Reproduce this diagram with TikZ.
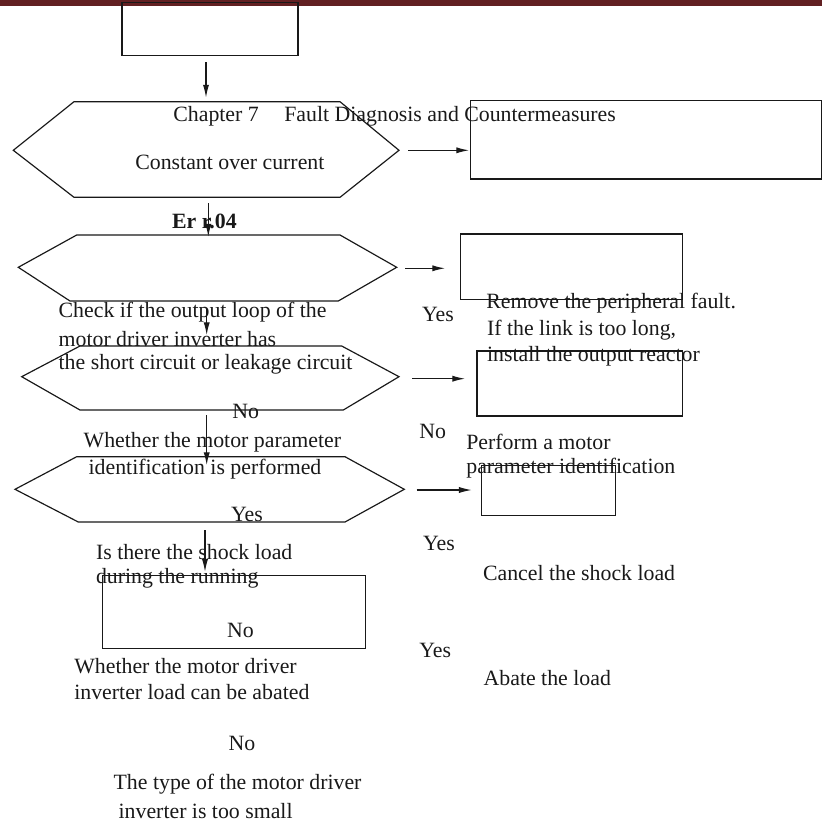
\documentclass[tikz,border=0pt]{standalone}
\usepackage{fontspec}
\setmainfont{Liberation Serif}
\usetikzlibrary{arrows.meta}
\definecolor{barred}{RGB}{98,32,34}
\definecolor{ink}{RGB}{25,25,25}
\begin{document}
\begin{tikzpicture}[x=0.55pt,y=-0.55pt,
  txt/.style={anchor=west,inner sep=0pt,text=ink,font=\fontsize{12}{14}\selectfont},
  box/.style={draw=ink,line width=0.65pt,inner sep=0pt},
  hexa/.style={draw=ink,line width=0.65pt,line join=miter},
  arr/.style={draw=ink,line width=0.65pt,-{Latex[length=7pt,width=3.4pt]}}]
\useasboundingbox (0,0) rectangle (822,824);
% header bar
\fill[barred] (0,0) rectangle (822,5.5);
% boxes
\node[box,minimum width=176*0.55pt,minimum height=52.6*0.55pt] (b1) at (210,29) {};
\node[box,minimum width=350.8*0.55pt,minimum height=78.3*0.55pt] (b2) at (646.1,139.85) {};
\node[box,minimum width=222*0.55pt,minimum height=65.3*0.55pt] (b3) at (571.3,266.65) {};
\node[box,minimum width=205.3*0.55pt,minimum height=65*0.55pt] (b4) at (579.65,383.5) {};
\node[box,minimum width=134*0.55pt,minimum height=50*0.55pt] (b6) at (548.7,490.7) {};
\node[box,minimum width=263*0.55pt,minimum height=72.6*0.55pt] (b5) at (234.2,612) {};
% hexagons
\draw[hexa] (13.3,150.3) -- (74,101.7) -- (340,101.7) -- (399,150.3) -- (340,197.3) -- (74,197.3) -- cycle;
\draw[hexa] (18.3,267.3) -- (76.7,235) -- (340,235) -- (396.7,267.3) -- (338.3,301) -- (70,301) -- cycle;
\draw[hexa] (21.7,376.7) -- (80,346) -- (341.7,346) -- (399,376.7) -- (343.3,410) -- (80,410) -- cycle;
\draw[hexa] (15,489.3) -- (76.7,456.7) -- (345,456.7) -- (404.3,489.3) -- (345,522) -- (78.3,522) -- cycle;
% connector end points
\coordinate (a1s) at (206,62);     \coordinate (a1e) at (206,97.5);
\coordinate (a2s) at (408,150.3);  \coordinate (a2e) at (469,150.3);
\coordinate (a3s) at (208.3,203);  \coordinate (a3e) at (208.3,236.7);
\coordinate (a4s) at (405,268.3);  \coordinate (a4e) at (445,268.3);
\coordinate (a5s) at (206.7,308);  \coordinate (a5e) at (206.7,335);
\coordinate (a6s) at (412.3,378.7);\coordinate (a6e) at (465,378.7);
\coordinate (a7s) at (206.7,415);  \coordinate (a7e) at (206.7,465);
\coordinate (a8s) at (416.7,490);  \coordinate (a8e) at (471.7,490);
\coordinate (a9s) at (205,530);    \coordinate (a9e) at (205,571.7);
\draw[arr] (a1s) -- (a1e);
\draw[arr] (a2s) -- (a2e);
\draw[arr] (a3s) -- (a3e);
\draw[arr] (a4s) -- (a4e);
\draw[arr] (a5s) -- (a5e);
\draw[arr] (a6s) -- (a6e);
\draw[arr] (a7s) -- (a7e);
\draw[arr] (a8s) -- (a8e);
\draw[arr] (a9s) -- (a9e);
% texts
\node[txt] (t1) at (173,116) {Chapter 7};
\node[txt] (t2) at (284,116) {Fault Diagnosis and Countermeasures};
\node[txt] (t3) at (135,162.7) {Constant over current};
\node[txt,font=\fontsize{12}{14}\selectfont\bfseries] (t4) at (171.7,221.7) {Er r.04};
\node[txt] (t5) at (58.3,311.7) {Check if the output loop of the};
\node[txt] (t6) at (58.3,339.3) {motor driver inverter has};
\node[txt] (t7) at (58.3,364.3) {the short circuit or leakage circuit};
\node[txt] (t8) at (232,411.5) {No};
\node[txt] (t9) at (421.7,314) {Yes};
\node[txt] (t10) at (486,302.7) {Remove the peripheral fault.};
\node[txt] (t11) at (486.7,330) {If the link is too long,};
\node[txt] (t12) at (486.7,356) {install the output reactor};
\node[txt] (t13) at (83.3,442.7) {Whether the motor parameter};
\node[txt] (t14) at (88.3,469.3) {identification is performed};
\node[txt] (t15) at (419,431.7) {No};
\node[txt] (t16) at (466,441.7) {Perform a motor};
\node[txt] (t17) at (466,468.3) {parameter identification};
\node[txt] (t18) at (230.7,514.3) {Yes};
\node[txt] (t19) at (95.7,551.7) {Is there the shock load};
\node[txt] (t20) at (95.7,578.3) {during the running};
\node[txt] (t21) at (422.7,543.3) {Yes};
\node[txt] (t22) at (482.7,572.7) {Cancel the shock load};
\node[txt] (t23) at (226.7,630) {No};
\node[txt] (t24) at (74,666) {Whether the motor driver};
\node[txt] (t25) at (74,691.7) {inverter load can be abated};
\node[txt] (t26) at (419,650) {Yes};
\node[txt] (t27) at (483.3,677.7) {Abate the load};
\node[txt] (t28) at (228.3,743.3) {No};
\node[txt] (t29) at (113.3,784) {The type of the motor driver};
\node[txt] (t30) at (118.3,811) {inverter is too small};
\end{tikzpicture}
\end{document}
